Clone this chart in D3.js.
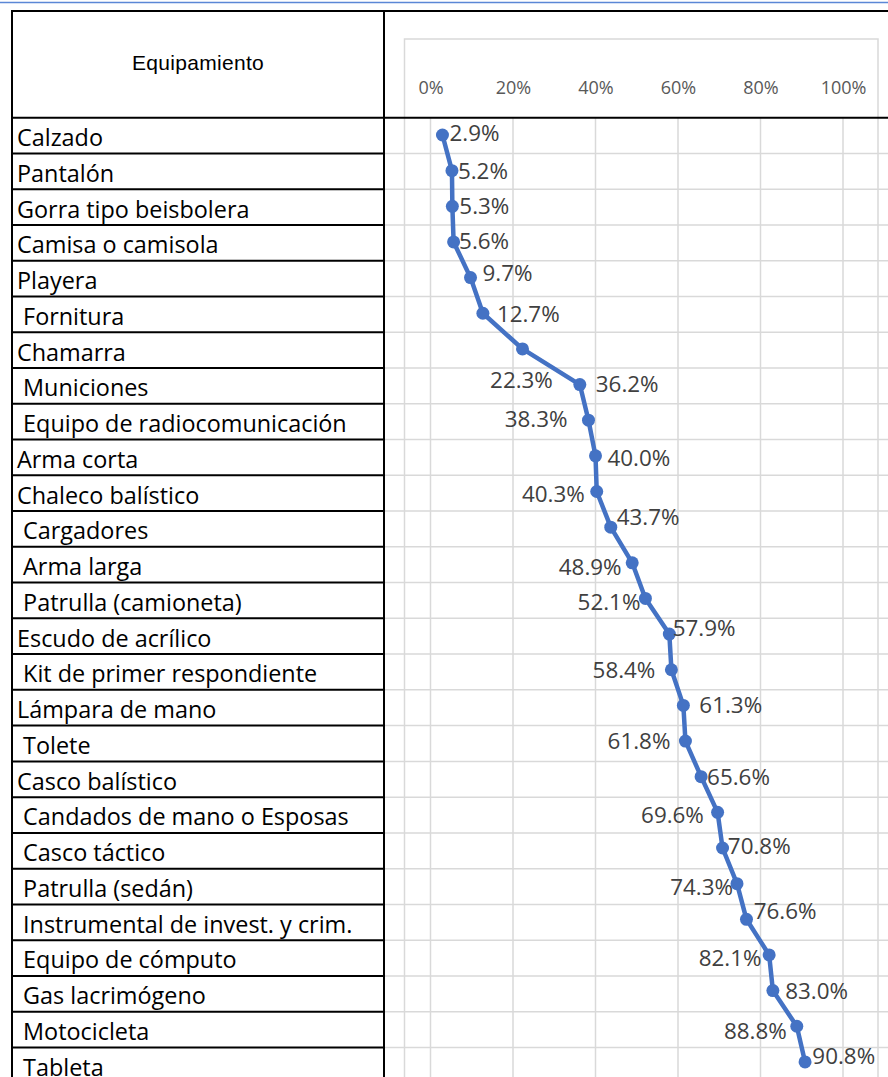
<!DOCTYPE html>
<html>
<head>
<meta charset="utf-8">
<script src="https://cdn.jsdelivr.net/npm/d3@7"></script>
<style>
  html, body { margin: 0; padding: 0; background: #fff; }
  svg { display: block; }
</style>
</head>
<body>
<svg id="chart" width="888" height="1077"></svg>
<script>
// Equipment items, in table order
const categories = [
  "Calzado", "Pantalón", "Gorra tipo beisbolera", "Camisa o camisola", "Playera",
  " Fornitura", "Chamarra", " Municiones", " Equipo de radiocomunicación", "Arma corta",
  "Chaleco balístico", " Cargadores", " Arma larga", " Patrulla (camioneta)", "Escudo de acrílico",
  " Kit de primer respondiente", "Lámpara de mano", " Tolete", "Casco balístico",
  " Candados de mano o Esposas", " Casco táctico", " Patrulla (sedán)",
  " Instrumental de invest. y crim.", " Equipo de cómputo", " Gas lacrimógeno",
  " Motocicleta", " Tableta"
];

// Share per item (percent)
const values = [
  2.9, 5.2, 5.3, 5.6, 9.7, 12.7, 22.3, 36.2, 38.3, 40.0,
  40.3, 43.7, 48.9, 52.1, 57.9, 58.4, 61.3, 61.8, 65.6, 69.6,
  70.8, 74.3, 76.6, 82.1, 83.0, 88.8, 90.8
];

// Axis tick values (fractions)
const tickValues = [0, 0.2, 0.4, 0.6, 0.8, 1.0];

// Data-label placement: [anchor, dx, dy] relative to each marker
const labelPlacement = [
  ["start", 7, -2], ["start", 6, 0], ["start", 7, 0], ["start", 5.5, -1], ["start", 12, -5],
  ["start", 14, 1], ["middle", -1, 31], ["start", 16, -1], ["end", -21, -1.4], ["start", 12, 1.6],
  ["end", -12, 2], ["start", 6, -10], ["end", -10.6, 3.7], ["end", -5, 3], ["start", 3.4, -6.4],
  ["end", -16, 0], ["start", 16, 0], ["end", -15, 0], ["start", 6, 0], ["end", -13.7, 2.3],
  ["start", 5.3, -2.3], ["end", -4, 3.3], ["start", 7.3, -8.3], ["end", -7.7, 2.6], ["start", 12.4, 0],
  ["end", -10, 5], ["start", 7.3, -6]
];

const W = 888, H = 1077;
const svg = d3.select("#chart");

const tableLeft = 12, tableDivider = 384, tableTop = 11, headerBottom = 117.7;
const rowH = 35.76;
const plotLeft = 404.5, plotRight = 878, plotTop = 39;

const blue = "#4472C4";
const gridColor = "#d9d9d9";

// Scales
const x = d3.scaleLinear().domain([0, 1]).range([430.5, 843]);
const y = d3.scalePoint().domain(d3.range(categories.length)).range([135, 135 + 26 * 35.65]);
const rows = d3.scaleBand().domain(d3.range(categories.length))
  .range([headerBottom, headerBottom + categories.length * rowH]);

// Window-top accent line
svg.append("line")
  .attr("x1", 0).attr("x2", W).attr("y1", 2.5).attr("y2", 2.5)
  .attr("stroke", "#5b87d6").attr("stroke-width", 1.5);

// Light row lines across the chart side
svg.append("g").selectAll("line")
  .data(d3.range(1, categories.length + 1))
  .join("line")
  .attr("x1", tableDivider).attr("x2", W)
  .attr("y1", d => headerBottom + d * rowH).attr("y2", d => headerBottom + d * rowH)
  .attr("stroke", gridColor).attr("stroke-width", 1.5);

// Chart area frame
svg.append("path")
  .attr("d", `M${plotLeft},${H + 5}V${plotTop}H${plotRight}V${H + 5}`)
  .attr("fill", "none").attr("stroke", gridColor).attr("stroke-width", 1.5);

// Vertical gridlines
svg.append("g").selectAll("line")
  .data(tickValues)
  .join("line")
  .attr("x1", d => x(d)).attr("x2", d => x(d))
  .attr("y1", headerBottom).attr("y2", H + 5)
  .attr("stroke", gridColor).attr("stroke-width", 1.5);

// Percentage axis along the top
const axis = d3.axisTop(x).tickValues(tickValues).tickFormat(d3.format(".0%")).tickSize(0).tickPadding(0);
const axisG = svg.append("g").attr("transform", "translate(0,94)").call(axis);
axisG.select(".domain").remove();
axisG.selectAll("text")
  .attr("font-family", "'Open Sans', sans-serif")
  .attr("font-size", 18)
  .attr("fill", "#595959");

// Table frame
const tbl = svg.append("g").attr("stroke", "#000").attr("stroke-width", 2);
tbl.append("line").attr("x1", tableLeft - 1).attr("x2", W).attr("y1", tableTop).attr("y2", tableTop);
tbl.append("line").attr("x1", tableLeft - 1).attr("x2", W).attr("y1", headerBottom).attr("y2", headerBottom);
tbl.append("line").attr("x1", tableLeft).attr("x2", tableLeft).attr("y1", tableTop).attr("y2", H + 5);
tbl.append("line").attr("x1", tableDivider).attr("x2", tableDivider).attr("y1", tableTop).attr("y2", H + 5);
tbl.selectAll(".rowline")
  .data(d3.range(1, categories.length + 1))
  .join("line")
  .attr("class", "rowline")
  .attr("x1", tableLeft).attr("x2", tableDivider)
  .attr("y1", d => headerBottom + d * rowH).attr("y2", d => headerBottom + d * rowH);

// Header
svg.append("text")
  .attr("x", 198).attr("y", 70)
  .attr("text-anchor", "middle")
  .attr("font-family", "'Liberation Sans', Arial, sans-serif")
  .attr("font-size", 21)
  .attr("letter-spacing", 0.3)
  .attr("fill", "#000")
  .text("Equipamiento");

// Row labels
svg.append("g").selectAll("text")
  .data(categories)
  .join("text")
  .attr("x", 17)
  .attr("y", (d, i) => rows(i) + 28.3)
  .attr("font-family", "'Open Sans', sans-serif")
  .attr("font-size", 23.4)
  .attr("fill", "#000")
  .style("white-space", "pre")
  .attr("xml:space", "preserve")
  .text(d => d);

// Line and markers
const line = d3.line().x(d => x(d / 100)).y((d, i) => y(i));
svg.append("path")
  .datum(values)
  .attr("d", line)
  .attr("fill", "none")
  .attr("stroke", blue)
  .attr("stroke-width", 4.5)
  .attr("stroke-linejoin", "round");

svg.append("g").selectAll("circle")
  .data(values)
  .join("circle")
  .attr("cx", d => x(d / 100))
  .attr("cy", (d, i) => y(i))
  .attr("r", 6.5)
  .attr("fill", blue);

// Value labels
svg.append("g").selectAll("text")
  .data(values)
  .join("text")
  .attr("x", (d, i) => x(d / 100) + labelPlacement[i][1])
  .attr("y", (d, i) => y(i) + labelPlacement[i][2])
  .attr("dy", "0.36em")
  .attr("text-anchor", (d, i) => labelPlacement[i][0])
  .attr("font-family", "'Open Sans', sans-serif")
  .attr("font-size", 22.4)
  .attr("fill", "#404040")
  .text(d => d.toFixed(1) + "%");
</script>
</body>
</html>
